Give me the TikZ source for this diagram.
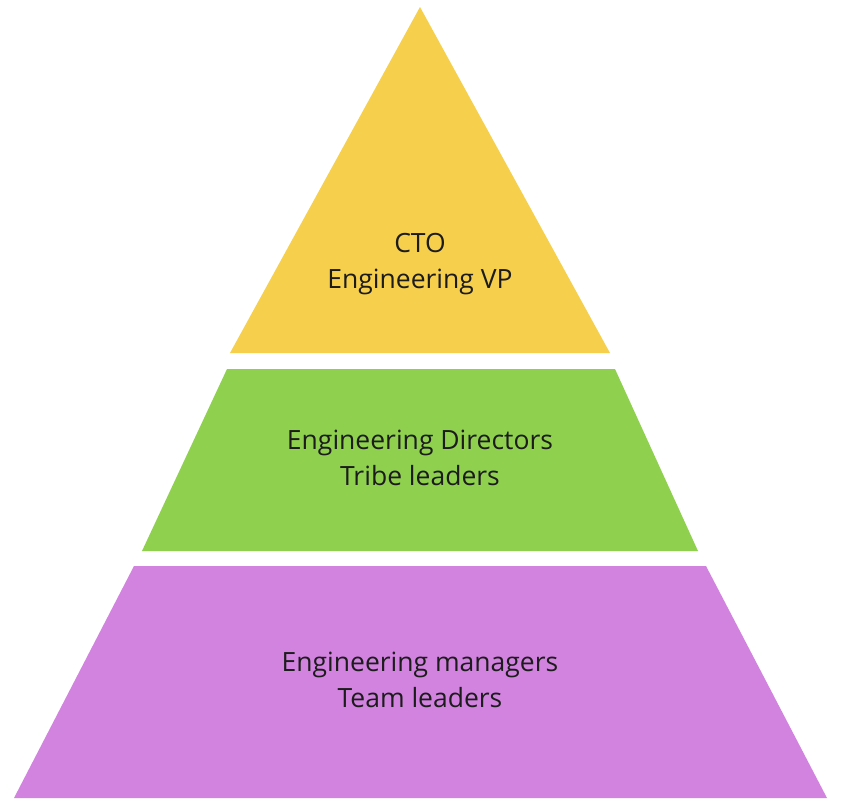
\documentclass[tikz,border=0pt]{standalone}
\usepackage{fontspec}
\setmainfont{Open Sans}
\definecolor{cyellow}{HTML}{F6D04D}
\definecolor{cgreen}{HTML}{8FD14F}
\definecolor{cpurple}{HTML}{D283DF}
\definecolor{ctext}{HTML}{1C1C1C}
\begin{document}
\begin{tikzpicture}[x=1pt,y=-1pt,
  tier/.style={draw=none},
  lbl/.style={align=center,text=ctext,font=\fontsize{26.5}{36}\selectfont,inner sep=0pt}]
\useasboundingbox (0,0) rectangle (843,807);
\fill[white] (0,0) rectangle (843,807);
\fill[cyellow,tier] (420,7) -- (230,353) -- (610,353) -- cycle;
\fill[cgreen,tier] (227,369) -- (615,369) -- (698,551) -- (142,551) -- cycle;
\fill[cpurple,tier] (134,566) -- (706,566) -- (827,798) -- (14,798) -- cycle;
\node[lbl] (top) at (420,264) {CTO\\Engineering VP};
\node[lbl] (mid) at (420,458) {Engineering Directors\\Tribe leaders};
\node[lbl] (bot) at (420,680) {Engineering managers\\Team leaders};
\end{tikzpicture}
\end{document}
